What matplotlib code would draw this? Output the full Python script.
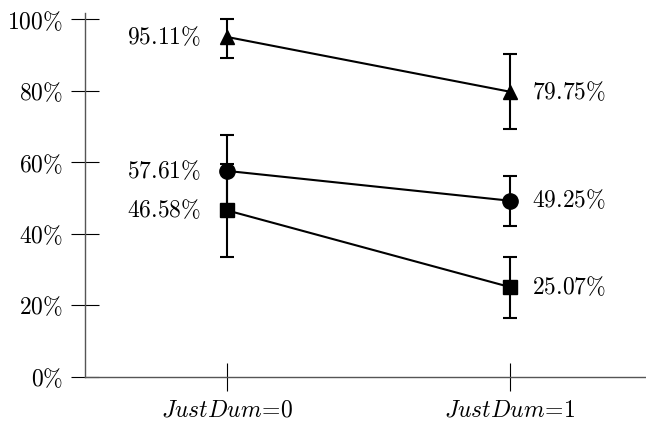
import matplotlib
matplotlib.use('Agg')
import matplotlib.pyplot as plt

plt.rcParams['mathtext.fontset'] = 'cm'
plt.rcParams['font.family'] = 'DejaVu Serif'

groups = [r'$JustDum\!=\!0$', r'$JustDum\!=\!1$']
xpos = [0, 1]

tri_vals = [95.11, 79.75]
tri_lo = [6.0, 10.5]
tri_hi = [4.9, 10.5]
circ_vals = [57.61, 49.25]
circ_lo = [10.0, 7.0]
circ_hi = [10.0, 7.0]
sq_vals = [46.58, 25.07]
sq_lo = [13.0, 8.5]
sq_hi = [13.0, 8.5]

series = [
    (tri_vals, tri_lo, tri_hi, '^', 10),
    (circ_vals, circ_lo, circ_hi, 'o', 11),
    (sq_vals, sq_lo, sq_hi, 's', 10),
]

fig = plt.figure(figsize=(6.46, 4.26), dpi=100)
ax = fig.add_axes([85 / 646, 49.3 / 426, 1 - 85 / 646, (376.7 - 13) / 426])

for vals, lo, hi, mk, ms in series:
    ax.errorbar(xpos, vals, yerr=[lo, hi], color='black', marker=mk, markersize=ms,
                linewidth=1.5, elinewidth=1.5, capsize=5, capthick=1.5, clip_on=False)
    ax.text(xpos[0] - 0.09, vals[0], r'$%.2f\%%$' % vals[0], ha='right', va='center', fontsize=17)
    ax.text(xpos[1] + 0.078, vals[1], r'$%.2f\%%$' % vals[1], ha='left', va='center', fontsize=17)

ax.set_xlim(-0.5, 1.479)
ax.set_ylim(0, 101.8)
ax.set_xticks(xpos)
ax.set_xticklabels(groups, fontsize=17)
yt = [0, 20, 40, 60, 80, 100]
ax.set_yticks(yt)
ax.set_yticklabels([r'$%d\%%$' % v for v in yt], fontsize=17)
ax.tick_params(direction='inout', length=20, width=0.8, color='black', pad=6)

for s in ['top', 'right']:
    ax.spines[s].set_visible(False)
for s in ['left', 'bottom']:
    ax.spines[s].set_color('#555555')
    ax.spines[s].set_linewidth(1.0)

fig.savefig('out.png', dpi=100)
